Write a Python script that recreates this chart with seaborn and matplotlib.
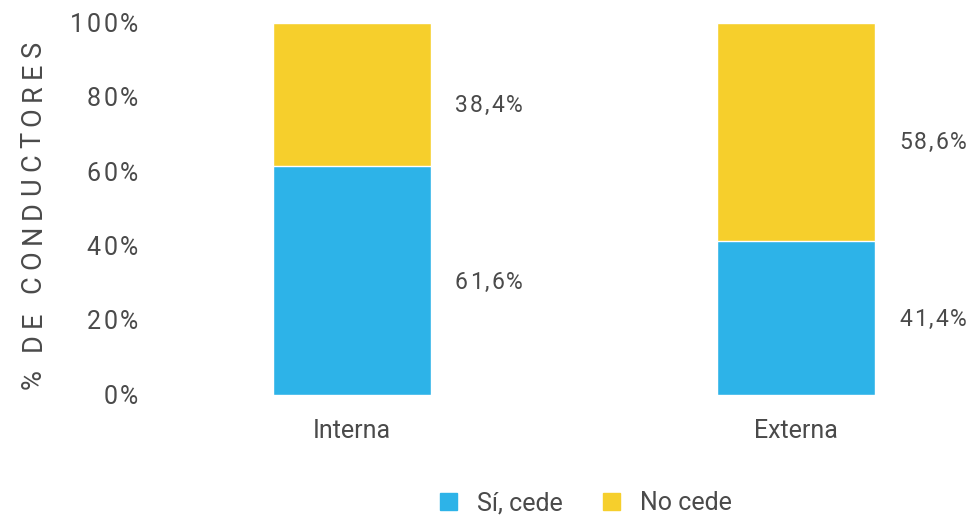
import matplotlib
matplotlib.use("Agg")
import matplotlib.pyplot as plt
import pandas as pd
import seaborn as sns
from matplotlib.patches import Patch
from matplotlib.font_manager import FontProperties
from matplotlib.transforms import offset_copy

categorias = ["Interna", "Externa"]
si_cede = [61.6, 41.4]
no_cede = [38.4, 58.6]
series = ["Sí, cede", "No cede"]
y_ticks = [0, 20, 40, 60, 80, 100]

AZUL = "#2db3e8"
AMARILLO = "#f6cf2c"
GRIS = "#4a4a4a"
FUENTE = ["Roboto", "DejaVu Sans"]

sns.set_theme(style="white")
plt.rcParams["font.family"] = FUENTE
plt.rcParams["font.weight"] = "normal"

df = pd.DataFrame({"categoria": categorias, "si": si_cede, "no": no_cede})
df["total"] = df["si"] + df["no"]

fig = plt.figure(figsize=(9.8, 5.16), dpi=100)
ax = fig.add_axes([145 / 980, (516 - 395) / 516, (975 - 145) / 980, (395 - 23) / 516])
renderer = fig.canvas.get_renderer()


def texto_espaciado(x, y, s, trans, size, track, ha="left", vertical=False,
                    dx=0, dy=0, weight="normal"):
    '''
    Dibuja un texto con espaciado entre letras (tracking), letra a letra
    '''
    fp = FontProperties(family=FUENTE, weight=weight, size=size)

    def ancho(t):
        return renderer.get_text_width_height_descent(t, fp, ismath=False)[0]

    avances = [ancho("H" + c + "H") - ancho("HH") for c in s]
    total = sum(avances) + track * (len(s) - 1)
    pos = {"left": 0, "center": -total / 2, "right": -total}[ha]
    base = -0.355 * size * 100 / 72
    for c, a in zip(s, avances):
        if vertical:
            t = offset_copy(trans, fig, x=dx - base, y=dy + pos, units="dots")
            ax.text(x, y, c, transform=t, rotation=90, rotation_mode="anchor",
                    ha="left", va="baseline", fontproperties=fp, color=GRIS)
        else:
            t = offset_copy(trans, fig, x=dx + pos, y=dy + base, units="dots")
            ax.text(x, y, c, transform=t, ha="left", va="baseline",
                    fontproperties=fp, color=GRIS)
        pos += a + track


ancho_barra = 0.356
sns.barplot(data=df, x="categoria", y="total", color=AMARILLO, width=ancho_barra,
            saturation=1, ax=ax)
sns.barplot(data=df, x="categoria", y="si", color=AZUL, width=ancho_barra,
            saturation=1, ax=ax)

# etiquetas a la derecha de cada barra
desplaz = 0.232
for i, row in df.iterrows():
    texto_espaciado(i + desplaz, row["si"] / 2,
                    f"{row['si']:.1f}%".replace(".", ","), ax.transData, 16.5, 2)
    texto_espaciado(i + desplaz, row["si"] + row["no"] / 2 - 2.5,
                    f"{row['no']:.1f}%".replace(".", ","), ax.transData, 16.5, 2)

ax.set_xlim(-0.466, 1.403)
ax.set_ylim(0, 100)
ax.set_yticks(y_ticks)
ax.set_yticklabels([])
for t in y_ticks:
    texto_espaciado(0, t, f"{t}%", ax.get_yaxis_transform(), 18, 2.5,
                    ha="right", dx=-7)
ax.tick_params(axis="y", length=0)
ax.tick_params(axis="x", length=0, pad=17, labelsize=18, labelcolor=GRIS)
ax.set_xlabel("")
ax.set_ylabel("")
texto_espaciado(31 / 980, (516 - 215) / 516, "% DE CONDUCTORES", fig.transFigure,
                19.5, 6, ha="center", vertical=True)
sns.despine(ax=ax, left=True, bottom=True)

handles = [Patch(color=AZUL), Patch(color=AMARILLO)]
fig.legend(handles, series, loc="center", bbox_to_anchor=(0.598, 0.025),
           ncol=2, frameon=False, fontsize=18, handlelength=0.68,
           handleheight=0.68, columnspacing=1.6, handletextpad=0.8,
           labelcolor=GRIS)

fig.savefig("out.png", dpi=100)
